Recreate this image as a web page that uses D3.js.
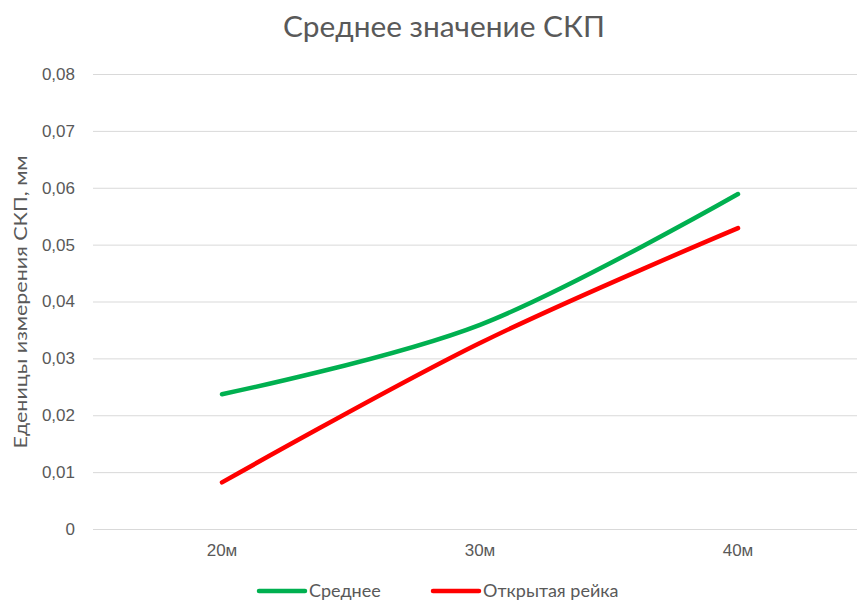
<!DOCTYPE html>
<html>
<head>
<meta charset="utf-8">
<script src="https://cdn.jsdelivr.net/npm/d3@7/dist/d3.min.js"></script>
<style>
  html, body { margin: 0; padding: 0; background: #fff; }
  svg { display: block; font-family: Lato, "Open Sans", sans-serif; }
</style>
</head>
<body>
<script>
// Categories and series
const categories = ["20м", "30м", "40м"];
const seriesNames = ["Среднее", "Открытая рейка"];
const seriesColors = ["#00B050", "#FF0000"];
const avgValues = [0.0237, 0.0359, 0.0589];
const openRodValues = [0.0082, 0.0327, 0.0529];
const yTicks = [0, 0.01, 0.02, 0.03, 0.04, 0.05, 0.06, 0.07, 0.08];

const W = 857, H = 601;
const margin = { top: 74, left: 93, bottom: 72 };
const plotW = 774;
const plotH = H - margin.top - margin.bottom;

const svg = d3.select("body").append("svg")
  .attr("width", W).attr("height", H);

const x = d3.scaleBand().domain(categories).range([margin.left, margin.left + plotW]);
const y = d3.scaleLinear().domain([0, 0.08]).range([margin.top + plotH, margin.top]);

const fmt = v => v === 0 ? "0" : d3.format(".2f")(v).replace(".", ",");

// Horizontal gridlines
const yAxis = d3.axisLeft(y).tickValues(yTicks).tickFormat(fmt)
  .tickSize(-plotW).tickPadding(18);
const gy = svg.append("g").attr("transform", `translate(${margin.left},0)`).call(yAxis);
gy.select(".domain").remove();
gy.selectAll(".tick line").attr("stroke", "#d9d9d9").attr("stroke-width", 1);
gy.selectAll(".tick text").attr("fill", "#595959").style("font-size", "17px");

// Category axis labels
const xAxis = d3.axisBottom(x).tickSize(0).tickPadding(15);
const gx = svg.append("g").attr("transform", `translate(0,${margin.top + plotH})`).call(xAxis);
gx.select(".domain").remove();
gx.selectAll(".tick text").attr("fill", "#595959").style("font-size", "17px");

// Smoothed series lines
const line = d3.line()
  .x((d, i) => x(categories[i]) + x.bandwidth() / 2)
  .y(d => y(d))
  .curve(d3.curveCatmullRom.alpha(0));

[avgValues, openRodValues].forEach((vals, k) => {
  svg.append("path")
    .datum(vals)
    .attr("d", line)
    .attr("fill", "none")
    .attr("stroke", seriesColors[k])
    .attr("stroke-width", 4.5)
    .attr("stroke-linecap", "round")
    .attr("stroke-linejoin", "round");
});

// Title
svg.append("text")
  .attr("x", 444).attr("y", 37)
  .attr("text-anchor", "middle")
  .attr("fill", "#595959")
  .style("font-size", "28px")
  .attr("textLength", 322)
  .attr("lengthAdjust", "spacingAndGlyphs")
  .text("Среднее значение СКП");

// Y axis title
svg.append("text")
  .attr("transform", `translate(27,${302}) rotate(-90)`)
  .attr("text-anchor", "middle")
  .attr("fill", "#595959")
  .style("font-size", "18px")
  .attr("textLength", 293)
  .attr("lengthAdjust", "spacingAndGlyphs")
  .text("Еденицы измерения СКП, мм");

// Legend
const legendItems = [
  { x: 259, name: seriesNames[0], color: seriesColors[0] },
  { x: 433, name: seriesNames[1], color: seriesColors[1] }
];
const lg = svg.append("g").attr("transform", "translate(0,591)");
legendItems.forEach(it => {
  lg.append("line")
    .attr("x1", it.x).attr("x2", it.x + 46)
    .attr("y1", 0).attr("y2", 0)
    .attr("stroke", it.color).attr("stroke-width", 4.5)
    .attr("stroke-linecap", "round");
  lg.append("text")
    .attr("x", it.x + 50).attr("y", 0)
    .attr("dy", "0.35em")
    .attr("fill", "#595959")
    .style("font-size", "18px")
    .text(it.name);
});
</script>
</body>
</html>
